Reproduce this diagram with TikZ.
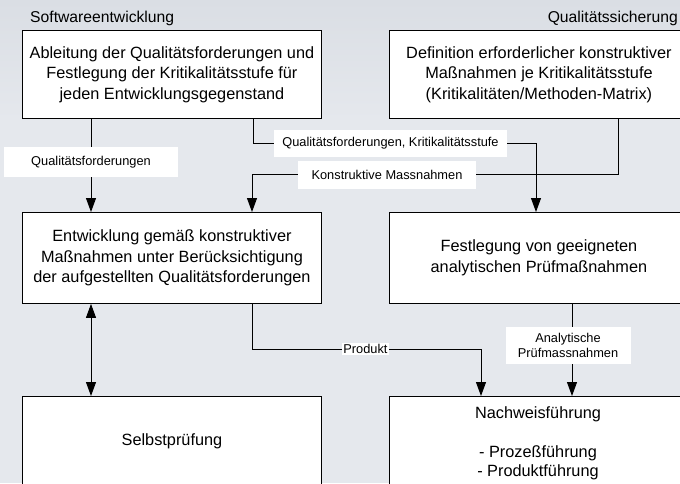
\documentclass[tikz,border=0pt]{standalone}
\usepackage{fontspec}
\setmainfont{Liberation Sans}
\usetikzlibrary{arrows.meta}
\definecolor{bgtone}{RGB}{229,232,237}
\definecolor{bgtop}{RGB}{218,222,228}
\tikzset{
  box/.style={draw=black, line width=0.9pt, fill=white, anchor=north west,
    minimum width=299pt, inner sep=0pt, align=center,
    font=\fontsize{16.3}{20.5}\selectfont},
  flow/.style={line width=0.9pt, -{Triangle[length=14pt,width=10pt]}},
  twoway/.style={line width=0.9pt, {Triangle[length=14pt,width=10pt]}-{Triangle[length=14pt,width=10pt]}},
  tag/.style={fill=white, inner sep=0pt, align=center,
    font=\fontsize{12.8}{14.5}\selectfont},
  head/.style={inner sep=0pt, font=\fontsize{15.7}{18}\selectfont},
}
\begin{document}
\begin{tikzpicture}[x=1pt,y=-1pt]
\clip (0,0) rectangle (680,483);
\shade[top color=bgtop, bottom color=bgtone] (0,0) rectangle (680,120);
\fill[bgtone] (0,120) rectangle (680,483);

% column headings
\node[head, anchor=west] (h1) at (30,18.5) {Softwareentwicklung};
\node[head, anchor=east] (h2) at (678,18.5) {Qualitätssicherung};

% process boxes
\node[box, minimum height=88pt] (A) at (22,30)
  {Ableitung der Qualitätsforderungen und\\Festlegung der Kritikalitätsstufe für\\jeden Entwicklungsgegenstand};
\node[box, minimum height=88pt] (B) at (389,30)
  {Definition erforderlicher konstruktiver\\Maßnahmen je Kritikalitätsstufe\\(Kritikalitäten/Methoden-Matrix)};
\node[box, minimum height=91pt] (C) at (22,212)
  {Entwicklung gemäß konstruktiver\\Maßnahmen unter Berücksichtigung\\der aufgestellten Qualitätsforderungen};
\node[box, minimum height=91pt] (D) at (389,212)
  {Festlegung von geeigneten\\analytischen Prüfmaßnahmen};
\node[box, minimum height=90pt] (E) at (22,396) {Selbstprüfung};
\node[box, minimum height=100pt] (F) at (389,396) {};
\node[anchor=north, inner sep=0pt, align=center,
  font=\fontsize{16.3}{19.5}\selectfont] (Ftext) at ([xshift=149pt,yshift=-10pt]F.north west)
  {Nachweisführung\\[0pt]\strut\\- Prozeßführung\\- Produktführung};

% connectors
\draw[flow] ([xshift=69pt]A.south west) -- ([xshift=69pt]C.north west);
\draw[flow] ([xshift=231pt]A.south west) -- ++(0,25) -| ([xshift=147pt]D.north west);
\draw[flow] ([xshift=229pt]B.south west) -- ++(0,56) -| ([xshift=230pt]C.north west);
\draw[flow] ([xshift=230pt]C.south west) -- ++(0,46) -| ([xshift=92pt]F.north west);
\draw[flow] ([xshift=183pt]D.south west) -- ([xshift=183pt]F.north west);
\draw[twoway] ([xshift=69pt]C.south west) -- ([xshift=69pt]E.north west);

% connector labels
\node[tag, minimum width=174pt, minimum height=30pt] (l1) at (91,162) {Qualitätsforderungen};
\node[tag, minimum width=233pt, minimum height=27pt] (l2) at (390.5,143.5) {Qualitätsforderungen, Kritikalitätsstufe};
\node[tag, minimum width=178pt, minimum height=28pt] (l3) at (387,175) {Konstruktive Massnahmen};
\node[tag, inner sep=1.5pt] (l4) at (365.5,349) {Produkt};
\node[tag, minimum width=125pt, minimum height=37pt] (l5) at (568,345.5) {Analytische\\Prüfmassnahmen};
\end{tikzpicture}
\end{document}
